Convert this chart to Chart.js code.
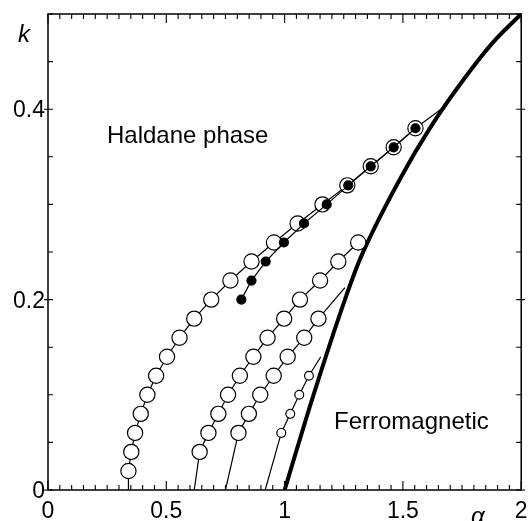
<!DOCTYPE html>
<html><head><meta charset="utf-8">
<script src="https://cdn.jsdelivr.net/npm/chart.js@4"></script>
<style>html,body{margin:0;padding:0;background:#fff;overflow:hidden}</style>
</head><body>
<canvas id="c" width="530" height="521" style="width:530px;height:521px;display:block"></canvas>
<script>
// ---- data ----
const boundaryAlpha = [1.0, 1.116, 1.255, 1.318, 1.493, 1.619, 1.759, 1.880, 2.0];
const boundaryK     = [0, 0.095, 0.200, 0.242, 0.329, 0.382, 0.432, 0.470, 0.5];

const alphaA = [0.340, 0.340, 0.352, 0.368, 0.392, 0.420, 0.457, 0.503, 0.556, 0.618, 0.690, 0.771, 0.860, 0.955, 1.055, 1.160, 1.265, 1.364, 1.461, 1.553, 1.661];
const kA     = [0, 0.02, 0.04, 0.06, 0.08, 0.10, 0.12, 0.14, 0.16, 0.18, 0.20, 0.22, 0.24, 0.26, 0.28, 0.30, 0.32, 0.34, 0.36, 0.38, 0.40];

const alphaB = [0.817, 0.860, 0.920, 0.997, 1.082, 1.178, 1.269, 1.364, 1.461, 1.553];
const kB     = [0.20, 0.22, 0.24, 0.26, 0.28, 0.30, 0.32, 0.34, 0.36, 0.38];

const alphaC = [0.618, 0.641, 0.678, 0.720, 0.761, 0.811, 0.868, 0.928, 0.998, 1.065, 1.150, 1.227, 1.311];
const kC     = [0, 0.04, 0.06, 0.08, 0.10, 0.12, 0.14, 0.16, 0.18, 0.20, 0.22, 0.24, 0.26];

const alphaD = [0.750, 0.805, 0.849, 0.897, 0.954, 1.013, 1.083, 1.143, 1.255];
const kD     = [0, 0.06, 0.08, 0.10, 0.12, 0.14, 0.16, 0.18, 0.2125];

const alphaE = [0.918, 0.986, 1.024, 1.062, 1.103, 1.153];
const kE     = [0, 0.06, 0.08, 0.10, 0.12, 0.14];

// indices of plain line ends (no marker)
const bareA = [0, 20];
const bareC = [0];
const bareD = [0, 8];
const bareE = [0, 5];

const xTickValues = [0, 0.5, 1, 1.5, 2];
const xTickLabels = ['0', '0.5', '1', '1.5', '2'];
const yTickValues = [0, 0.2, 0.4];
const yTickLabels = ['0', '0.2', '0.4'];
const regionLabels = ['Haldane phase', 'Ferromagnetic'];

// ---- helpers ----
const pts = (xs, ys) => xs.map((v, i) => ({x: v, y: ys[i]}));
const FONT = '"Liberation Sans", Arial, Helvetica, sans-serif';

function series(xs, ys, bare, r, fill, ord) {
  return {
    data: pts(xs, ys),
    showLine: true,
    borderColor: '#000',
    borderWidth: 1.2,
    pointBorderColor: '#000',
    pointBackgroundColor: fill,
    pointBorderWidth: 1.2,
    pointRadius: ctx => bare.includes(ctx.dataIndex) ? 0 : r,
    pointHoverRadius: 0,
    tension: 0,
    order: ord
  };
}

const framePlugin = {
  id: 'framePlugin',
  afterDraw(chart) {
    const {ctx, chartArea: a, scales: {x, y}} = chart;
    ctx.save();
    ctx.strokeStyle = '#000';
    ctx.lineWidth = 1.5;
    ctx.strokeRect(a.left, a.top, a.right - a.left, a.bottom - a.top);
    ctx.lineWidth = 1.1;
    ctx.beginPath();
    for (let i = 0; i <= 40; i++) {
      const px = x.getPixelForValue(i * 0.05);
      const L = (i % 10 === 0) ? 9 : 5;
      ctx.moveTo(px, a.bottom); ctx.lineTo(px, a.bottom - L);
      ctx.moveTo(px, a.top); ctx.lineTo(px, a.top + L);
    }
    for (let i = 0; i <= 10; i++) {
      const py = y.getPixelForValue(i * 0.05);
      const major = (i % 4 === 0);
      ctx.moveTo(a.left - (major ? 4 : 0), py); ctx.lineTo(a.left + 5, py);
      ctx.moveTo(a.right + (major ? 4 : 0), py); ctx.lineTo(a.right - 5, py);
    }
    ctx.stroke();

    ctx.fillStyle = '#000';
    ctx.font = '23px ' + FONT;
    ctx.textBaseline = 'alphabetic';
    ctx.textAlign = 'center';
    xTickValues.forEach((v, i) => ctx.fillText(xTickLabels[i], x.getPixelForValue(v), 518));
    ctx.textAlign = 'right';
    yTickValues.forEach((v, i) => ctx.fillText(yTickLabels[i], 45, y.getPixelForValue(v) + 8));

    ctx.textAlign = 'left';
    ctx.font = '24px ' + FONT;
    ctx.fillText(regionLabels[0], 107, 143);
    ctx.fillText(regionLabels[1], 334, 429);

    ctx.font = 'italic 24px ' + FONT;
    ctx.fillText('k', 18, 42);
    ctx.fillText('α', 471, 524);
    ctx.restore();
  }
};

new Chart(document.getElementById('c'), {
  type: 'scatter',
  data: {
    datasets: [
      series(alphaB, kB, [], 4.5, '#000', 0),
      series(alphaA, kA, bareA, 7.6, '#fff', 1),
      series(alphaC, kC, bareC, 7.6, '#fff', 2),
      series(alphaD, kD, bareD, 7.6, '#fff', 2),
      series(alphaE, kE, bareE, 4.4, '#fff', 2),
      {
        data: pts(boundaryAlpha, boundaryK),
        showLine: true,
        borderColor: '#000',
        borderWidth: 4,
        pointRadius: 0,
        pointHoverRadius: 0,
        cubicInterpolationMode: 'monotone',
        order: 5
      }
    ]
  },
  options: {
    responsive: false,
    animation: false,
    events: [],
    layout: {padding: {left: 48, top: 14, right: 6, bottom: 31}},
    plugins: {legend: {display: false}, tooltip: {enabled: false}},
    scales: {
      x: {type: 'linear', min: 0, max: 2, display: false},
      y: {type: 'linear', min: 0, max: 0.5, display: false}
    }
  },
  plugins: [framePlugin]
});
</script>
</body></html>
